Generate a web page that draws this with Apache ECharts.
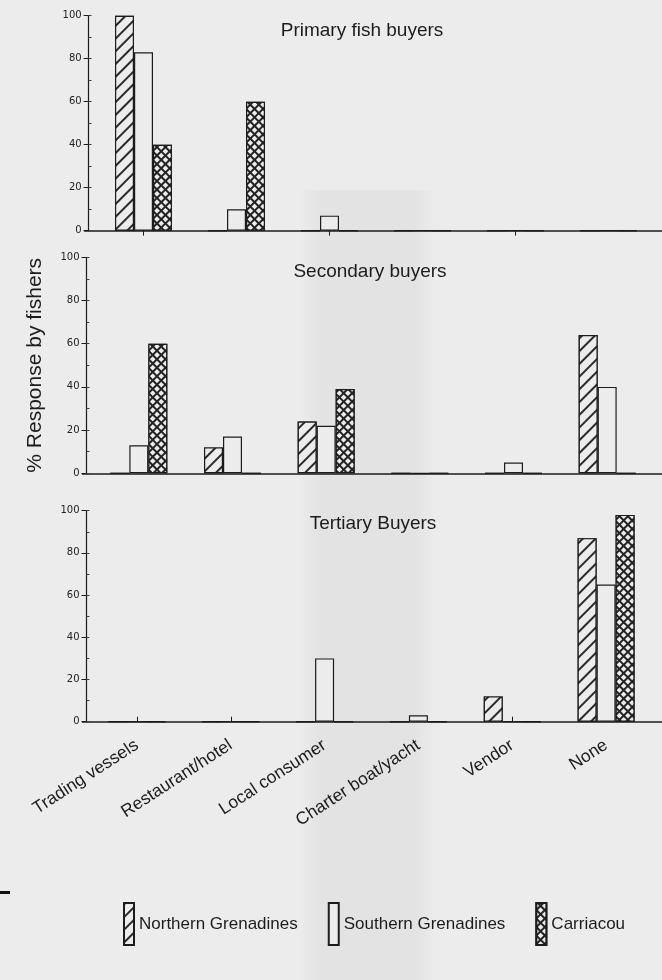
<!DOCTYPE html>
<html><head><meta charset="utf-8">
<script src="https://cdn.jsdelivr.net/npm/echarts@6/dist/echarts.min.js"></script>
<style>html,body{margin:0;padding:0;background:#ececec}#c{width:662px;height:980px}</style>
</head><body><div id="c"></div>
<script>
// ---- data ----
const categories = ['Trading vessels', 'Restaurant/hotel', 'Local consumer', 'Charter boat/yacht', 'Vendor', 'None'];
const seriesNames = ['Northern Grenadines', 'Southern Grenadines', 'Carriacou'];
const panelTitles = ['Primary fish buyers', 'Secondary buyers', 'Tertiary Buyers'];
const yAxisName = '% Response by fishers';

const primaryNorthern   = [100, 0, 0, 0, 0, 0];
const primarySouthern   = [83, 10, 7, 0, 0, 0];
const primaryCarriacou  = [40, 60, 0, 0, 0, 0];

const secondaryNorthern  = [0, 12, 24, 0, 0, 64];
const secondarySouthern  = [13, 17, 22, 0, 5, 40];
const secondaryCarriacou = [60, 0, 39, 0, 0, 0];

const tertiaryNorthern  = [0, 0, 0, 0, 12, 87];
const tertiarySouthern  = [0, 0, 30, 3, 0, 65];
const tertiaryCarriacou = [0, 0, 0, 0, 0, 98];

const panelData = [
  [primaryNorthern, primarySouthern, primaryCarriacou],
  [secondaryNorthern, secondarySouthern, secondaryCarriacou],
  [tertiaryNorthern, tertiarySouthern, tertiaryCarriacou]
];

// ---- layout / style ----
const BG = '#ececec';
const INK = '#1c1c1c';
const FONT = '"Liberation Sans", Arial, sans-serif';
const layout = [
  { top: 15.7, height: 215, left: 97, width: 558, axisX: 88.6, titleX: 357, titleTop: 16, tickInside: false },
  { top: 257.3, height: 216, left: 92, width: 562, axisX: 86.5, titleX: 365, titleTop: 257, tickInside: true },
  { top: 510.7, height: 211, left: 90, width: 563, axisX: 86.5, titleX: 368, titleTop: 509, tickInside: true }
];

const decals = [
  { symbol: 'rect', dashArrayX: [1, 0], dashArrayY: [1.1, 6.3], rotation: -Math.PI / 4, color: '#2a2a2a', backgroundColor: BG, symbolSize: 1 },
  null,
  { symbol: 'rect', dashArrayX: [3.9, 1.15], dashArrayY: [3.9, 1.15], rotation: Math.PI / 4, color: BG, backgroundColor: '#222', symbolSize: 1 }
];

const grid = [], xAxis = [], yAxis = [], series = [], title = [];
layout.forEach((L, i) => {
  grid.push({ left: L.left, top: L.top, width: L.width, height: L.height });
  grid.push({ left: L.axisX - 4, right: 0, top: L.top, height: L.height });
  title.push({ text: panelTitles[i], left: L.titleX, top: L.titleTop, textAlign: 'center',
    textStyle: { fontFamily: FONT, fontSize: 19, fontWeight: 'normal', color: INK } });
  xAxis.push({
    type: 'category', gridIndex: 2 * i, data: categories,
    axisLine: { show: false },
    axisTick: { show: true, alignWithLabel: true, inside: L.tickInside, length: 5, lineStyle: { color: INK, width: 1 } },
    axisLabel: i === 2 ? { show: true, rotate: 33, margin: 22, fontFamily: FONT, fontSize: 17.5, color: INK, interval: 0 } : { show: false },
    splitLine: { show: false }
  });
  xAxis.push({
    type: 'value', gridIndex: 2 * i + 1, min: 0, max: 1,
    axisLine: { show: true, onZero: false, lineStyle: { color: INK, width: 1.6 } },
    axisTick: { show: false }, axisLabel: { show: false }, splitLine: { show: false }
  });
  const off = L.left - L.axisX;
  yAxis.push({
    type: 'value', gridIndex: 2 * i, position: 'left', min: 0, max: 100, interval: 20, offset: off,
    axisLine: { show: true, lineStyle: { color: INK, width: 1.2 } },
    axisTick: { show: true, length: 5, lineStyle: { color: INK, width: 1 } },
    axisLabel: { margin: 7, fontFamily: '"DejaVu Sans", sans-serif', fontSize: 10, color: '#222' },
    splitLine: { show: false },
    name: i === 1 ? yAxisName : '',
    nameLocation: 'middle', nameGap: 41, nameRotate: 90,
    nameTextStyle: { fontFamily: FONT, fontSize: 21, color: INK }
  });
  yAxis.push({
    type: 'value', gridIndex: 2 * i, position: 'left', min: 0, max: 100, interval: 10, offset: off,
    axisLine: { show: false },
    axisTick: { show: true, inside: true, length: 3, lineStyle: { color: '#444', width: 1 } },
    axisLabel: { show: false }, splitLine: { show: false }
  });
  yAxis.push({ type: 'value', gridIndex: 2 * i + 1, min: 0, max: 100, show: false });
  seriesNames.forEach((name, j) => {
    series.push({
      type: 'bar', name, xAxisIndex: 2 * i, yAxisIndex: 3 * i,
      data: panelData[i][j], barWidth: 19, barGap: '0%',
      itemStyle: { color: BG, borderColor: INK, borderWidth: 1.2, decal: decals[j] || undefined },
      emphasis: { disabled: true }, z: 3
    });
  });
});

const chart = echarts.init(document.getElementById('c'), null, { renderer: 'canvas' });
chart.setOption({
  backgroundColor: BG,
  animation: false,
  title, grid, xAxis, yAxis, series,
  legend: {
    data: seriesNames, left: 118, top: 897, orient: 'horizontal',
    icon: 'rect', itemWidth: 10, itemHeight: 42, itemGap: 30,
    textStyle: { fontFamily: FONT, fontSize: 17, color: INK },
    selectedMode: false
  },
  graphic: [
    { type: 'rect', z: -10, silent: true, shape: { x: 300, y: 190, width: 135, height: 790 },
      style: { fill: new echarts.graphic.LinearGradient(0, 0, 1, 0, [
        { offset: 0, color: 'rgba(0,0,0,0)' }, { offset: 0.15, color: 'rgba(0,0,0,0.04)' },
        { offset: 0.85, color: 'rgba(0,0,0,0.04)' }, { offset: 1, color: 'rgba(0,0,0,0)' }]) } },
    { type: 'rect', z: 10, silent: true, shape: { x: 0, y: 891, width: 10, height: 3 }, style: { fill: '#111' } }
  ]
});
</script></body></html>
